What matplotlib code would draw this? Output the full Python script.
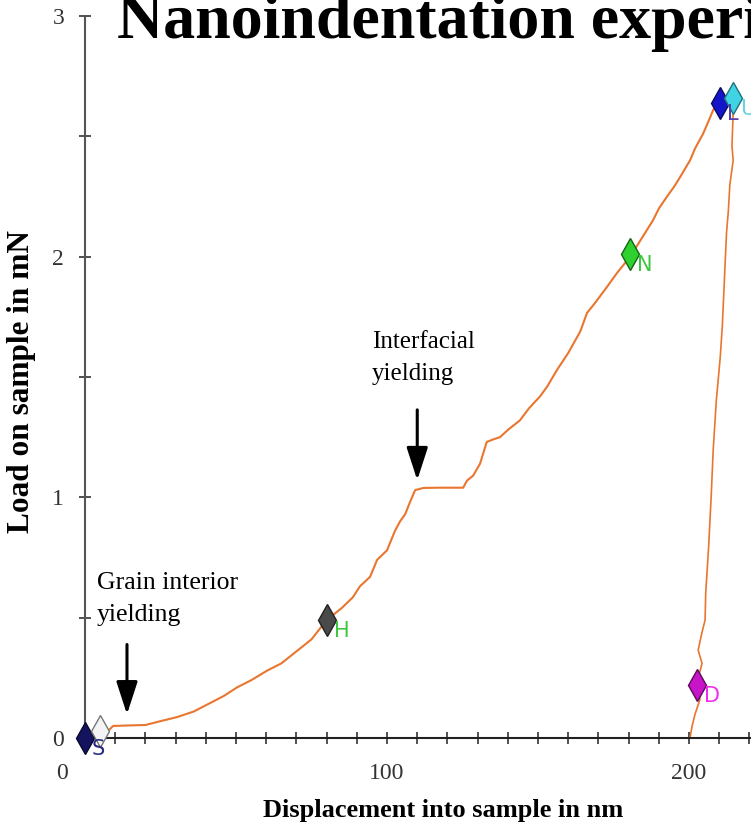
import matplotlib
matplotlib.use('Agg')
import matplotlib.pyplot as plt
import matplotlib.transforms as mtransforms

plt.rcParams['font.family'] = ['Liberation Serif', 'DejaVu Serif']

# loading branch (displacement nm, load mN)
load_x = [7.3, 9.3, 14, 20, 25, 30.5, 36, 41.4, 46, 50.3, 55, 60.3, 65, 69, 75, 80, 85,
          88.7, 91, 94.4, 96.7, 100, 102.6, 104.3, 106, 107.6, 109.3, 112, 117, 122, 125.2,
          126.5, 128.5, 130.8, 133, 135, 137.4, 140, 144, 147, 150.7, 153, 156.3, 160, 164,
          166.2, 169, 172.8, 176, 180.5, 184, 188, 190, 192.7, 195, 197, 200.3, 202, 204.6,
          206, 208, 210.4, 212, 214.6]
load_y = [0.025, 0.05, 0.052, 0.054, 0.07, 0.087, 0.11, 0.145, 0.175, 0.21, 0.24, 0.28, 0.31,
          0.35, 0.41, 0.49, 0.54, 0.585, 0.63, 0.67, 0.74, 0.78, 0.86, 0.90, 0.93, 0.98, 1.03,
          1.039, 1.04, 1.04, 1.04, 1.07, 1.09, 1.14, 1.23, 1.24, 1.25, 1.28, 1.32, 1.37, 1.42,
          1.46, 1.53, 1.60, 1.69, 1.766, 1.81, 1.874, 1.93, 2.0, 2.07, 2.15, 2.20, 2.25, 2.29,
          2.33, 2.40, 2.45, 2.51, 2.55, 2.61, 2.64, 2.65, 2.66]

# unloading branch
unload_x = [214.6, 214.6, 214.2, 214.6, 213.5, 213, 212.4, 212, 211.5, 211, 210.3, 209, 208,
            207.3, 206.5, 205.5, 205.3, 204.3, 203, 204.3, 202.6, 203.6, 202, 201, 200.3]
unload_y = [2.66, 2.6, 2.46, 2.40, 2.3, 2.19, 2.1, 1.99, 1.85, 1.71, 1.58, 1.4, 1.2, 1.0, 0.8,
            0.6, 0.49, 0.44, 0.365, 0.31, 0.23, 0.16, 0.10, 0.05, 0.0]

# segment markers
mark_names = ['S', '', 'H', 'N', 'L', 'U', 'D']
mark_x = [0, 5, 80, 180.5, 210.4, 214.6, 202.6]
mark_y = [0.0, 0.03, 0.49, 2.01, 2.64, 2.66, 0.22]
mark_face = ['#14145e', '#f4f4f4', '#4a4a4a', '#2ed12e', '#1414c8', '#3fd3e3', '#c814c8']
mark_edge = ['#0a0a30', '#777777', '#222222', '#166316', '#0a0a60', '#207080', '#5a0a5a']
label_color = ['#2a2a80', '#777777', '#3cc83c', '#3cc83c', '#5a3cb4', '#6cd2e0', '#f02cf0']

fig = plt.figure(figsize=(7.51, 8.35), dpi=100)
ax = fig.add_axes([85 / 751, 97 / 835, 666 / 751, 722 / 835])

ax.plot(load_x, load_y, color='#e9762f', lw=1.5, zorder=2)
ax.plot(unload_x, unload_y, color='#e9762f', lw=1.2, zorder=2)

for i in range(len(mark_x)):
    ax.plot(mark_x[i], mark_y[i], marker='d', ms=16, mfc=mark_face[i], mec=mark_edge[i],
            mew=1.0, clip_on=False, zorder=5)
    if mark_names[i]:
        ax.annotate(mark_names[i], (mark_x[i], mark_y[i]), xytext=(5, -8),
                    textcoords='offset points', ha='left', va='center', fontsize=15,
                    family='DejaVu Sans', color=label_color[i], annotation_clip=False,
                    zorder=6)

# yield annotations
arrow_style = dict(arrowstyle='-|>,head_length=2.0,head_width=0.65', color='black', lw=2.2)
ax.text(4, 0.69, 'Grain interior\nyielding', fontsize=18.5, va='top', ha='left',
        linespacing=1.6)
ax.annotate('', xy=(13.9, 0.087), xytext=(13.9, 0.40), arrowprops=arrow_style)
ax.text(95, 1.69, 'Interfacial\nyielding', fontsize=18, va='top', ha='left',
        linespacing=1.6)
ax.annotate('', xy=(110, 1.06), xytext=(110, 1.375), arrowprops=arrow_style)

ax.set_xlim(0, 220.5)
ax.set_ylim(0, 3)
for s in ['top', 'right']:
    ax.spines[s].set_visible(False)
ax.spines['left'].set_color('#555555')
ax.spines['left'].set_linewidth(1.5)
ax.spines['bottom'].set_color('#222222')
ax.spines['bottom'].set_linewidth(1.5)

ax.set_xticks([0, 100, 200])
ax.set_xticks(range(0, 221, 10), minor=True)
ax.set_yticks([0, 1, 2, 3])
ax.set_yticks([0.5, 1.5, 2.5], minor=True)
ax.tick_params(axis='both', which='both', direction='inout', length=8, width=1.2,
               labelsize=17, colors='#333333')
ax.tick_params(axis='x', pad=14)
ax.tick_params(axis='y', pad=11)

# the "0" x label sits left of the axis in the original
lab0 = ax.get_xticklabels()[0]
lab0.set_transform(lab0.get_transform() + mtransforms.ScaledTranslation(-0.23, 0, fig.dpi_scale_trans))

ax.set_xlabel('Displacement into sample in nm', fontsize=19, fontweight='bold')
ax.set_ylabel('Load on sample in mN', fontsize=22.5, fontweight='bold')
ax.xaxis.set_label_coords(0.537, -0.085)
ax.yaxis.set_label_coords(-0.073, 0.493)

fig.text(117 / 751, 1 - 38 / 835, 'Nanoindentation experiment', fontsize=46,
         fontweight='bold', va='baseline', ha='left')

fig.savefig('out.png', dpi=100)
